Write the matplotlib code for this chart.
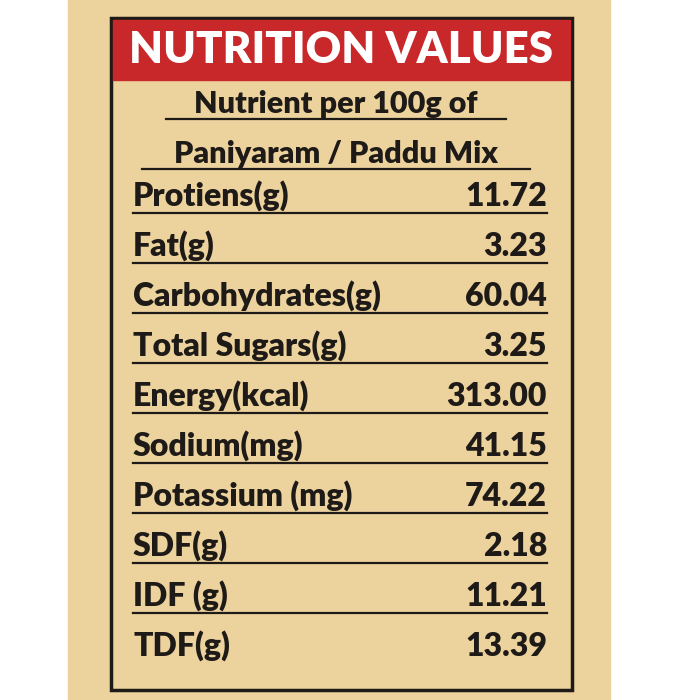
import matplotlib
matplotlib.use("Agg")
import matplotlib.pyplot as plt
from matplotlib.patches import Rectangle

title = "NUTRITION VALUES"
subtitle = ["Nutrient per 100g of", "Paniyaram / Paddu Mix"]
nutrients = ["Protiens(g)", "Fat(g)", "Carbohydrates(g)", "Total Sugars(g)", "Energy(kcal)",
             "Sodium(mg)", "Potassium (mg)", "SDF(g)", "IDF (g)", "TDF(g)"]
values = ["11.72", "3.23", "60.04", "3.25", "313.00", "41.15", "74.22", "2.18", "11.21", "13.39"]

fig = plt.figure(figsize=(7, 7), dpi=100)
ax = fig.add_axes([0, 0, 1, 1])
ax.set_xlim(0, 700); ax.set_ylim(700, 0); ax.axis("off")
fig.patch.set_facecolor("white")
beige = "#ecd29c"
ink = "#1e1a17"
ax.add_patch(Rectangle((68, 0), 542, 700, color=beige))
ax.add_patch(Rectangle((111, 18), 461, 672, fill=False, ec=ink, lw=2.5))
ax.add_patch(Rectangle((113, 20), 457, 60, color="#c8282a"))
font = "Lato"
ax.text(341, 50, title, ha="center", va="center", color="white", fontsize=31.5,
        fontweight="heavy", family=font)
for i, s in enumerate(subtitle):
    y = 104 + i * 50
    ax.text(336, y, s, ha="center", va="center", color=ink, fontsize=22, fontweight="heavy", family=font)
    t_w = 340 if i == 0 else 388
    ax.plot([336 - t_w / 2, 336 + t_w / 2], [y + 15, y + 15], color=ink, lw=1.6)
for i, (n, v) in enumerate(zip(nutrients, values)):
    y = 196 + i * 50
    ax.text(133, y, n, ha="left", va="center", color=ink, fontsize=23, fontweight="heavy", family=font)
    ax.text(547, y, v, ha="right", va="center", color=ink, fontsize=23, fontweight="heavy", family=font)
    if i < len(nutrients) - 1:
        ax.plot([133, 547], [y + 17, y + 17], color=ink, lw=1.6)
fig.savefig("out.png", dpi=100)
